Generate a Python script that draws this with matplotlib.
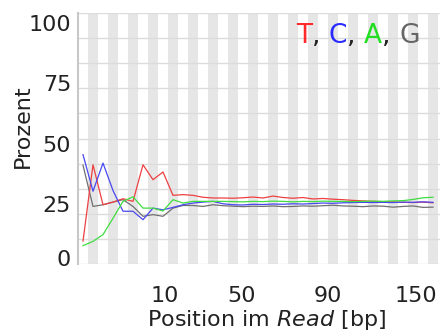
import matplotlib
matplotlib.use('Agg')
import matplotlib.pyplot as plt
import numpy as np
from matplotlib.transforms import ScaledTranslation

plt.rcParams['font.family'] = ['DejaVu Sans']
plt.rcParams['mathtext.fontset'] = 'dejavusans'

# per-bin base content in percent (36 bins)
t_pct = [9.5, 41.2, 24.6, 25.7, 27.1, 26.0, 41.2, 35.0, 38.2, 28.5, 28.8, 28.5,
         27.7, 27.4, 27.4, 27.3, 27.5, 27.8, 27.4, 28.2, 27.6, 27.3, 27.6, 27.0,
         27.2, 26.9, 26.7, 26.4, 26.2, 26.0, 25.9, 25.8, 25.6, 25.5, 25.7, 25.4]
c_pct = [45.4, 30.2, 41.9, 30.5, 21.9, 21.9, 18.4, 23.2, 22.5, 23.5, 24.6, 25.3,
         25.7, 26.0, 25.0, 24.6, 24.5, 24.8, 24.7, 24.9, 24.8, 25.0, 24.9, 25.1,
         25.3, 25.2, 25.4, 25.5, 25.6, 25.5, 25.6, 25.5, 25.7, 25.6, 25.8, 25.6]
a_pct = [7.6, 9.4, 12.2, 19.0, 26.0, 27.9, 23.2, 23.2, 22.0, 26.7, 25.3, 26.0,
         26.0, 26.0, 26.0, 25.9, 25.8, 26.0, 25.9, 26.1, 26.0, 25.8, 26.0, 25.9,
         26.1, 26.0, 26.0, 25.9, 26.0, 26.1, 26.0, 26.2, 26.3, 26.8, 27.5, 27.7]
g_pct = [41.0, 23.9, 24.6, 25.7, 26.7, 23.9, 19.8, 20.5, 19.8, 23.2, 24.3, 24.3,
         23.9, 24.6, 24.2, 24.0, 23.8, 24.0, 23.9, 24.1, 23.8, 23.9, 24.1, 24.0,
         24.2, 24.4, 24.1, 24.0, 23.8, 24.1, 24.0, 23.6, 23.9, 24.1, 23.5, 23.6]

xtick_labels = ['10', '50', '90', '150']
xtick_pos = [8.2, 15.9, 24.5, 33.3]
ytick_vals = [0, 25, 50, 75, 100]

W, H = 440, 336
fig = plt.figure(figsize=(W / 100, H / 100), dpi=100)
ax = fig.add_axes([78 / W, 1 - 264 / H, 362 / W, 251 / H])

n = len(t_pct)
x = np.arange(n)
ymax = 104.2

# alternating bands
for k in range(1, n, 2):
    ax.axvspan(k - 0.5, k + 0.5, color='#e6e6e6', lw=0, zorder=0)
for gy in np.linspace(0, ymax, 11):
    ax.axhline(gy, color='#dcdcdc', lw=1, zorder=1)

ax.plot(x, t_pct, color='#ee4040', lw=0.9, zorder=3)
ax.plot(x, c_pct, color='#4848f0', lw=0.9, zorder=3)
ax.plot(x, a_pct, color='#40dd40', lw=0.9, zorder=3)
ax.plot(x, g_pct, color='#707070', lw=0.9, zorder=2)

ax.set_xlim(-0.5, 35.7)
ax.set_ylim(0, ymax)

ax.set_yticks(ytick_vals)
ax.set_yticklabels([str(v) for v in ytick_vals])
ax.set_xticks(xtick_pos)
ax.set_xticklabels(xtick_labels)
ax.tick_params(axis='both', length=0, labelsize=16, colors='#222222')
ax.tick_params(axis='y', pad=5)
ax.tick_params(axis='x', pad=16)

# zero label sits a bit above the axis floor
lab0 = ax.get_yticklabels()[0]
lab0.set_transform(lab0.get_transform() + ScaledTranslation(0, 6 / 100, fig.dpi_scale_trans))

for s in ['top', 'right', 'bottom']:
    ax.spines[s].set_visible(False)
ax.spines['left'].set_color('#c8c8c8')
ax.spines['left'].set_linewidth(1.5)

ax.set_ylabel('Prozent', fontsize=16, color='#222222')
ax.yaxis.set_label_coords(-0.125, 0.55)
ax.set_xlabel(r'Position im $\mathit{Read}$ [bp]', fontsize=16, color='#222222')
ax.xaxis.set_label_coords(0.52, -0.175)

# coloured legend "T, C, A, G", drawn glyph by glyph
legend = 'T, C, A, G'
letter_colors = {'T': '#ff2a2a', 'C': '#2a2aff', 'A': '#22dd22', 'G': '#666666'}
renderer = fig.canvas.get_renderer()
x0, ybase = 296, H - 43


def text_width(s):
    t = fig.text(0, 0, s, fontsize=19)
    w = t.get_window_extent(renderer).width
    t.remove()
    return w


for i, ch in enumerate(legend):
    if ch == ' ':
        continue
    off = text_width(legend[:i + 1]) - text_width(ch)
    fig.text((x0 + off) / W, ybase / H, ch, fontsize=19,
             color=letter_colors.get(ch, '#222222'), va='baseline', ha='left')

fig.savefig('out.png', dpi=100)
